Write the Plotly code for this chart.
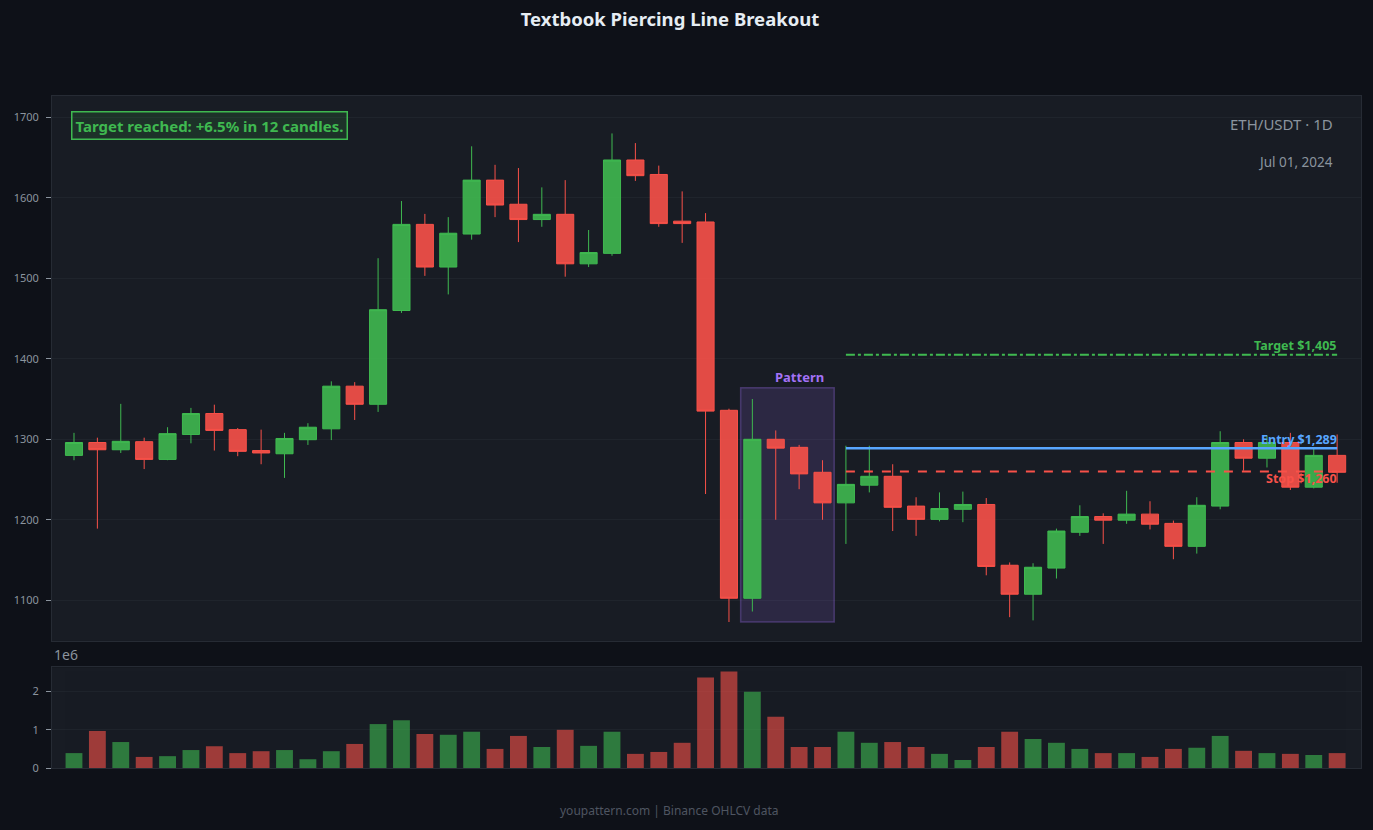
import plotly.graph_objects as go
from plotly.subplots import make_subplots

# ---------------- data ----------------
opens = [1280, 1296, 1287, 1297, 1275, 1306, 1332, 1312, 1286, 1282,
         1299.5, 1313, 1366, 1343.5, 1460, 1567, 1514, 1555, 1622, 1592,
         1573, 1579.5, 1518, 1531, 1647, 1629, 1571, 1570, 1336, 1102.5,
         1300, 1290, 1259, 1221, 1243, 1254, 1217, 1200.5, 1213, 1219,
         1143.5, 1107.5, 1140, 1184.5, 1204, 1199.5, 1207, 1195.5, 1167, 1217,
         1296, 1276.5, 1296, 1240.5, 1280]
highs = [1308, 1302, 1344, 1302, 1315, 1339, 1343, 1314, 1312, 1308,
         1320, 1372, 1371, 1525, 1596, 1580, 1576, 1664, 1641, 1637,
         1613, 1622, 1560, 1680, 1668, 1640, 1608, 1581, 1338, 1350,
         1311, 1293, 1274, 1292, 1292, 1269, 1228, 1234, 1235, 1227,
         1147, 1146, 1189, 1218, 1208, 1236, 1223, 1199, 1228, 1310,
         1300, 1304, 1308, 1290, 1306]
lows = [1274, 1189, 1283, 1263, 1274, 1295, 1286, 1279, 1269, 1252,
        1293, 1299, 1324, 1334, 1457, 1503, 1480, 1548, 1576, 1545,
        1564, 1502, 1514, 1528, 1621, 1564, 1544, 1232, 1073, 1086,
        1200, 1238, 1200, 1170, 1234, 1186, 1180, 1198, 1197, 1131,
        1079, 1075, 1127, 1180, 1170, 1195, 1188, 1151, 1158, 1213,
        1261, 1265, 1237, 1239, 1246]
closes = [1296, 1287, 1297.5, 1275, 1307, 1332, 1311, 1285, 1283, 1301,
          1315, 1366, 1343.5, 1461, 1567, 1514, 1556, 1622, 1591, 1573,
          1579.5, 1518, 1532, 1647, 1627.5, 1568, 1568, 1335, 1102.5, 1300,
          1289, 1257, 1221, 1244, 1254, 1215.5, 1200.5, 1214, 1219, 1142,
          1107.5, 1141, 1186, 1204, 1199.5, 1207, 1194.5, 1167, 1218, 1296,
          1276.5, 1296, 1240.5, 1280, 1259]
volume_m = [0.39, 0.97, 0.68, 0.29, 0.31, 0.47, 0.57, 0.39, 0.44, 0.47,
            0.23, 0.44, 0.63, 1.15, 1.25, 0.89, 0.87, 0.95, 0.50, 0.84,
            0.55, 1.00, 0.58, 0.95, 0.37, 0.42, 0.66, 2.37, 2.53, 2.00,
            1.34, 0.55, 0.55, 0.95, 0.66, 0.68, 0.55, 0.37, 0.21, 0.55,
            0.95, 0.76, 0.66, 0.50, 0.39, 0.39, 0.29, 0.50, 0.53, 0.84,
            0.45, 0.39, 0.37, 0.34, 0.39]
volumes = [v * 1e6 for v in volume_m]

entry_price = 1289
stop_price = 1260
target_price = 1405
pattern_first = 29      # index of first candle in pattern box
pattern_last = 32       # index of last candle in pattern box
pattern_low = 1073
pattern_high = 1364
levels_start = 33       # index where levels begin
symbol_text = "ETH/USDT · 1D"
date_text = "Jul 01, 2024"
result_text = "Target reached: +6.5% in 12 candles."

x = list(range(len(opens)))
levels_end = x[-1]

GREEN = "#3fb950"
RED = "#f85149"
BLUE = "#58a6ff"
PURPLE = "#a371f7"
GREY = "#8b949e"
PAPER = "#0e1118"
PLOT = "#181c24"
GRID = "#1f242c"

fig = make_subplots(rows=2, cols=1, shared_xaxes=False, vertical_spacing=0.0,
                    row_heights=[0.8, 0.2])

fig.add_trace(go.Candlestick(
    x=x, open=opens, high=highs, low=lows, close=closes,
    increasing=dict(line=dict(color=GREEN, width=1), fillcolor="rgba(63,185,80,0.9)"),
    decreasing=dict(line=dict(color=RED, width=1), fillcolor="rgba(248,81,73,0.9)"),
    whiskerwidth=0, showlegend=False, name="ETH/USDT"), row=1, col=1)

vol_colors = [GREEN if c >= o else RED for o, c in zip(opens, closes)]
fig.add_trace(go.Bar(x=x, y=volumes, marker=dict(color=vol_colors, line=dict(width=0)),
                     opacity=0.6, showlegend=False, name="Volume"), row=2, col=1)

xr = [-0.94, 55.02]
axis_common = dict(showline=True, mirror=True, linecolor="#262b34", linewidth=1)
fig.update_xaxes(range=xr, showticklabels=False, showgrid=False, zeroline=False,
                 rangeslider=dict(visible=False), ticks="", **axis_common)
fig.update_yaxes(gridcolor=GRID, zeroline=False, ticks="outside", ticklen=5,
                 tickcolor=GREY, ticklabelstandoff=5,
                 tickfont=dict(size=11, color=GREY), **axis_common)
fig.update_yaxes(range=[1049.4, 1726.5], tickvals=[1100, 1200, 1300, 1400, 1500, 1600, 1700],
                 row=1, col=1)
fig.update_yaxes(range=[0, 2.64e6], tickvals=[0, 1e6, 2e6], ticktext=["0", "1", "2"],
                 row=2, col=1)

fig.update_layout(
    xaxis=dict(domain=[0, 1]),
    yaxis=dict(domain=[0.189, 1.0]),
    yaxis2=dict(domain=[0.0, 0.150]),
)

# pattern box
fig.add_shape(type="rect", xref="x", yref="y",
              x0=pattern_first - 0.5, x1=pattern_last + 0.5,
              y0=pattern_low, y1=pattern_high,
              fillcolor="rgba(163,113,247,0.15)",
              line=dict(color="rgba(163,113,247,0.3)", width=1.5), layer="between")
fig.add_annotation(x=(pattern_first + pattern_last) / 2 + 0.5, y=pattern_high, xref="x", yref="y",
                   text="<b>Pattern</b>", showarrow=False, yanchor="bottom", yshift=0,
                   font=dict(size=13, color=PURPLE))

# levels
fig.add_shape(type="line", xref="x", yref="y", x0=levels_start, x1=levels_end,
              y0=target_price, y1=target_price, line=dict(color=GREEN, width=2, dash="dashdot"))
fig.add_shape(type="line", xref="x", yref="y", x0=levels_start, x1=levels_end,
              y0=entry_price, y1=entry_price, line=dict(color=BLUE, width=2.5))
fig.add_shape(type="line", xref="x", yref="y", x0=levels_start, x1=levels_end,
              y0=stop_price, y1=stop_price, line=dict(color=RED, width=2, dash="dash"))

fig.add_annotation(x=levels_end, y=target_price, xref="x", yref="y",
                   text=f"<b>Target ${target_price:,}</b>", showarrow=False,
                   xanchor="right", yanchor="bottom", yshift=-1, xshift=2,
                   font=dict(size=12.5, color=GREEN))
fig.add_annotation(x=levels_end, y=entry_price, xref="x", yref="y",
                   text=f"<b>Entry ${entry_price:,}</b>", showarrow=False,
                   xanchor="right", yanchor="bottom", yshift=-2, xshift=2,
                   font=dict(size=12.5, color=BLUE))
fig.add_annotation(x=levels_end, y=stop_price, xref="x", yref="y",
                   text=f"<b>Stop ${stop_price:,}</b>", showarrow=False,
                   xanchor="right", yanchor="top", yshift=3, xshift=2,
                   font=dict(size=12.5, color=RED))

# info texts
fig.add_annotation(x=0.0145, y=0.9777, xref="paper", yref="paper",
                   text=f"<b>{result_text}</b>", showarrow=False,
                   xanchor="left", yanchor="top",
                   font=dict(size=15, color=GREEN),
                   bgcolor="rgba(63,185,80,0.14)", bordercolor=GREEN, borderwidth=1.5, borderpad=3)
fig.add_annotation(x=0.980, y=0.9583, xref="paper", yref="paper", text=symbol_text,
                   showarrow=False, xanchor="right", yanchor="middle",
                   font=dict(size=15, color=GREY))
fig.add_annotation(x=0.980, y=0.9018, xref="paper", yref="paper", text=date_text,
                   showarrow=False, xanchor="right", yanchor="middle",
                   font=dict(size=13.5, color=GREY))
fig.add_annotation(x=0.0, y=0.1525, xref="paper", yref="paper", text="1e6",
                   showarrow=False, xanchor="left", yanchor="bottom",
                   font=dict(size=14, color=GREY))
fig.add_annotation(x=0.472, y=-0.0625, xref="paper", yref="paper",
                   text="youpattern.com | Binance OHLCV data",
                   showarrow=False, xanchor="center", yanchor="middle",
                   font=dict(size=12, color="#4e5561"))

fig.update_layout(
    width=1373, height=830,
    margin=dict(l=52, r=12, t=96, b=62),
    paper_bgcolor=PAPER, plot_bgcolor=PLOT,
    font=dict(family="Noto Sans", color=GREY),
    title=dict(text="<b>Textbook Piercing Line Breakout</b>", x=0.488, xanchor="center",
               y=0.976, yanchor="middle", yref="container",
               font=dict(size=18.5, color="#e6edf3")),
    bargap=0.28,
    boxgap=0.27, boxgroupgap=0,
    showlegend=False,
)

fig.write_html("out.html")
